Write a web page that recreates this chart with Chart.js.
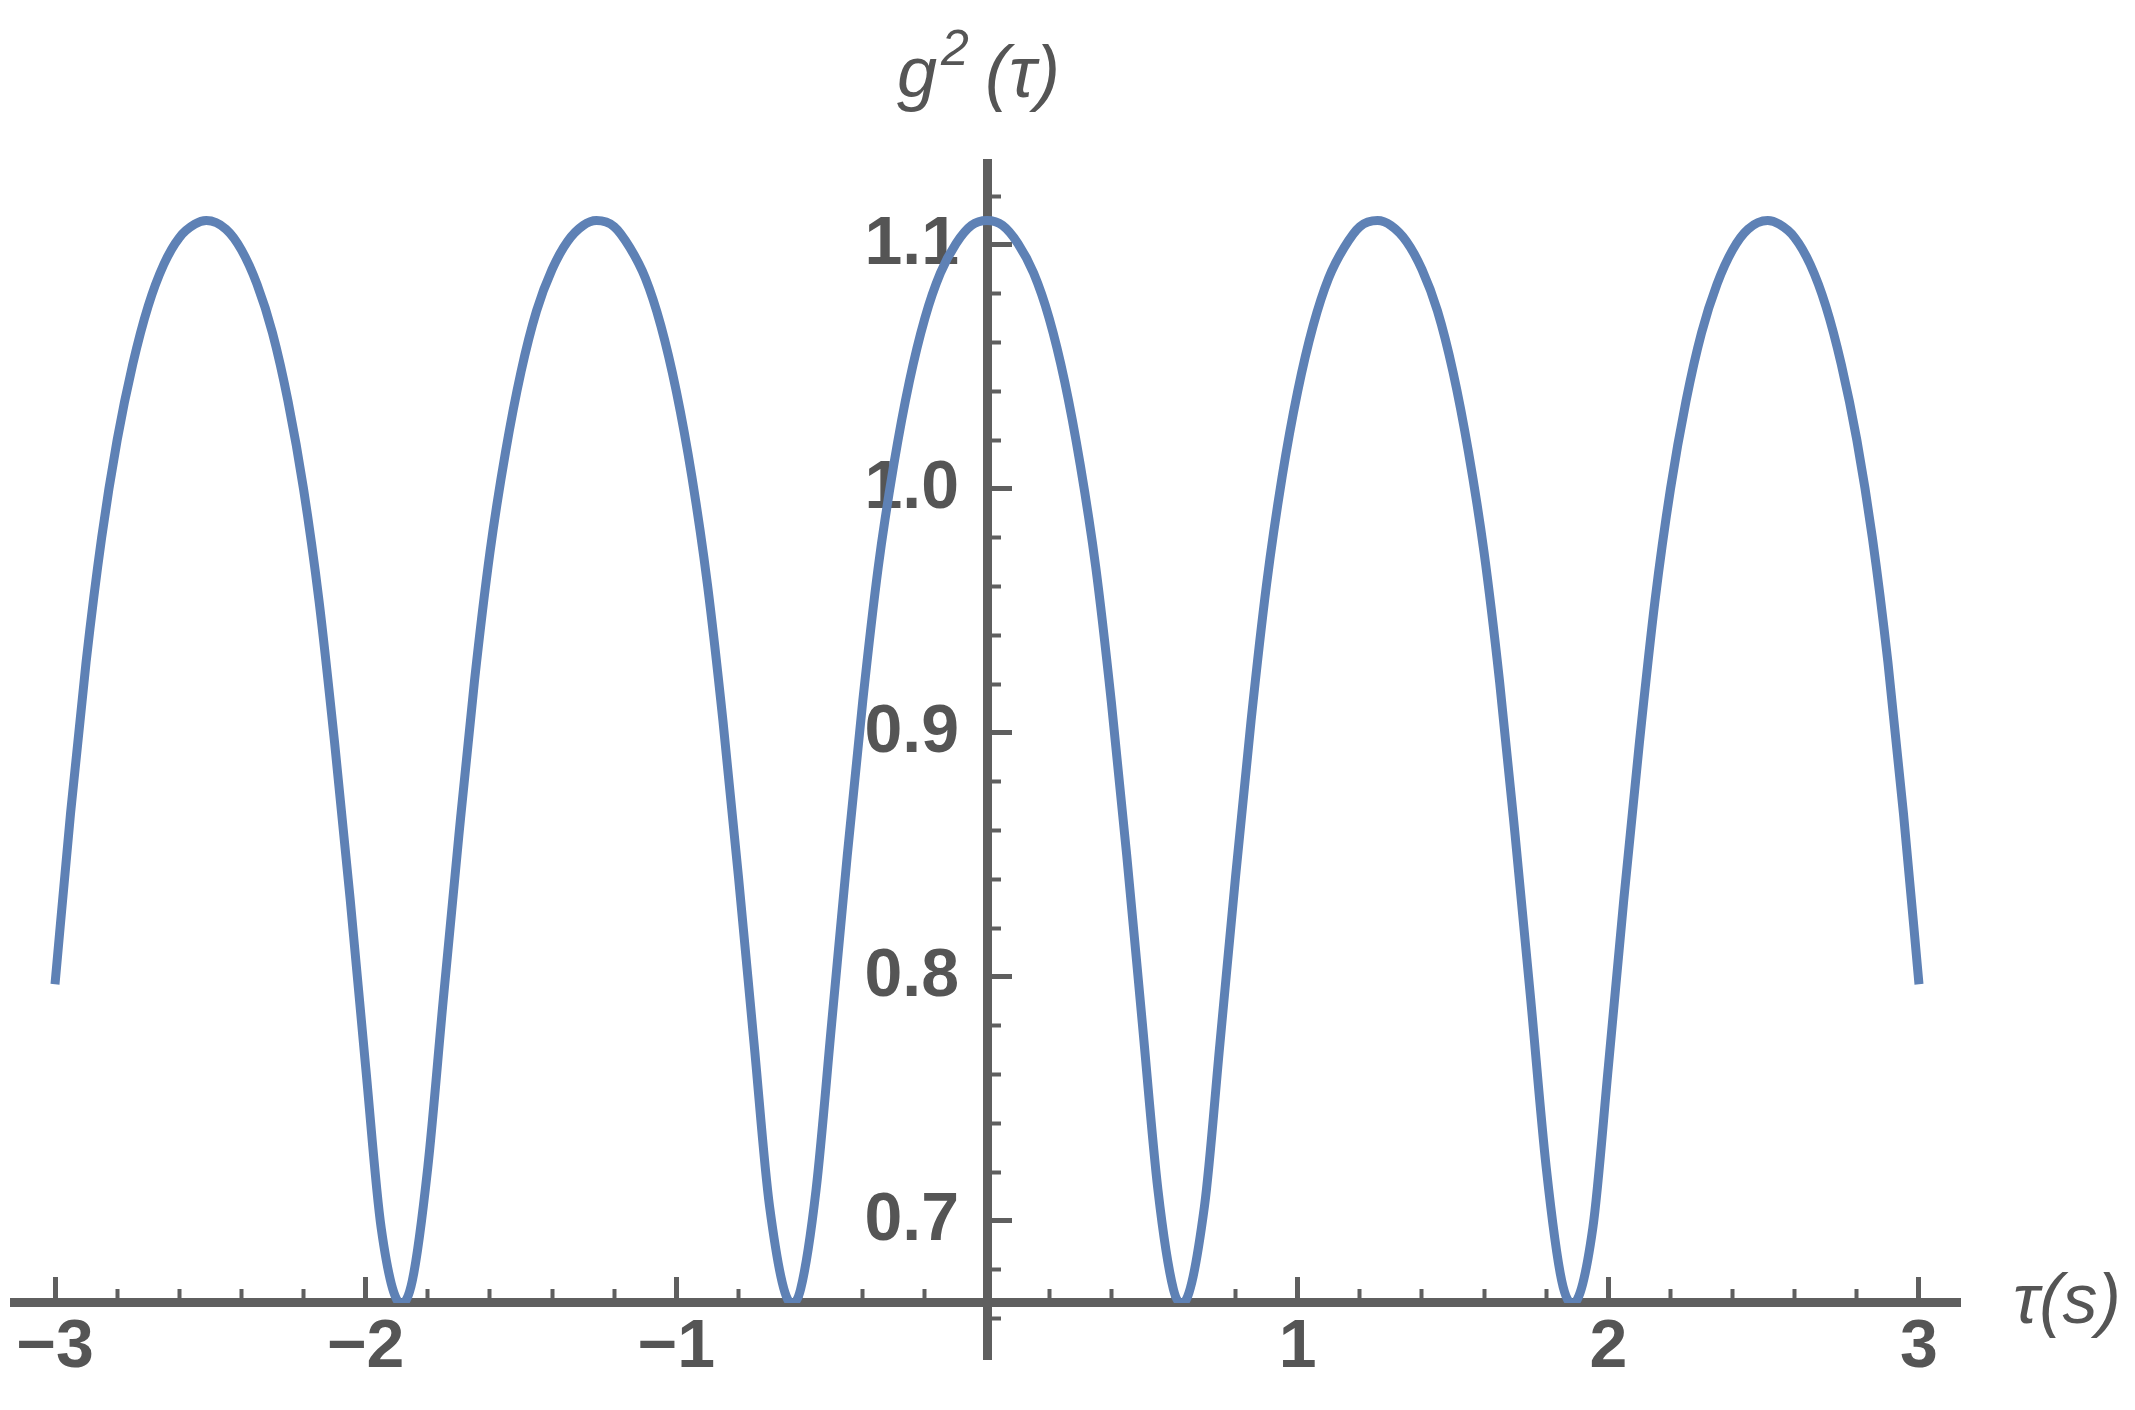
<!DOCTYPE html>
<html lang="en">
<head>
<meta charset="UTF-8">
<title>g2(tau)</title>
<script src="https://cdn.jsdelivr.net/npm/chart.js"></script>
<style>
    html, body { margin: 0; padding: 0; background: #ffffff; }
    .chart-box { position: relative; width: 2135px; height: 1410px; }
</style>
</head>
<body>
<div class="chart-box"><canvas id="plot"></canvas></div>
<script>
// tau (s): sample positions, with the extrema put in where they sit
const tau = [
    -3.00, -2.95, -2.90, -2.85, -2.80, -2.75, -2.70, -2.65, -2.60, -2.55,
    -2.513, -2.45, -2.40, -2.35, -2.30, -2.25, -2.20, -2.15, -2.10, -2.05,
    -2.00, -1.95, -1.885, -1.85, -1.80, -1.75, -1.70, -1.65, -1.60, -1.55,
    -1.50, -1.45, -1.40, -1.35, -1.30, -1.257, -1.20, -1.15, -1.10, -1.05,
    -1.00, -0.95, -0.90, -0.85, -0.80, -0.75, -0.70, -0.628, -0.60, -0.55,
    -0.50, -0.45, -0.40, -0.35, -0.30, -0.25, -0.20, -0.15, -0.10, -0.05,
    0.00,
    0.05, 0.10, 0.15, 0.20, 0.25, 0.30, 0.35, 0.40, 0.45, 0.50,
    0.55, 0.60, 0.628, 0.70, 0.75, 0.80, 0.85, 0.90, 0.95, 1.00,
    1.05, 1.10, 1.15, 1.20, 1.257, 1.30, 1.35, 1.40, 1.45, 1.50,
    1.55, 1.60, 1.65, 1.70, 1.75, 1.80, 1.85, 1.885, 1.95, 2.00,
    2.05, 2.10, 2.15, 2.20, 2.25, 2.30, 2.35, 2.40, 2.45, 2.513,
    2.55, 2.60, 2.65, 2.70, 2.75, 2.80, 2.85, 2.90, 2.95, 3.00
];

// g2(tau)
const g2 = [
    0.797, 0.867, 0.929, 0.980, 1.020, 1.051, 1.075, 1.092, 1.103, 1.1085,
    1.110, 1.1065, 1.098, 1.084, 1.064, 1.036, 1.000, 0.954, 0.896, 0.832,
    0.763, 0.697, 0.666, 0.6754, 0.722, 0.791, 0.858, 0.921, 0.974, 1.015,
    1.048, 1.073, 1.090, 1.1015, 1.108, 1.110, 1.1075, 1.099, 1.0865, 1.067,
    1.040, 1.005, 0.961, 0.905, 0.841, 0.773, 0.706, 0.666, 0.672, 0.713,
    0.781, 0.8495, 0.913, 0.968, 1.010, 1.044, 1.070, 1.0885, 1.1005, 1.108,
    1.110,
    1.108, 1.1005, 1.0885, 1.070, 1.044, 1.010, 0.968, 0.913, 0.8495, 0.781,
    0.713, 0.672, 0.666, 0.706, 0.773, 0.841, 0.905, 0.961, 1.005, 1.040,
    1.067, 1.0865, 1.099, 1.1075, 1.110, 1.108, 1.1015, 1.090, 1.073, 1.048,
    1.015, 0.974, 0.921, 0.858, 0.791, 0.722, 0.6754, 0.666, 0.697, 0.763,
    0.832, 0.896, 0.954, 1.000, 1.036, 1.064, 1.084, 1.098, 1.1065, 1.110,
    1.1085, 1.103, 1.092, 1.075, 1.051, 1.020, 0.980, 0.929, 0.867, 0.797
];

const xTickValues = [-3, -2, -1, 1, 2, 3];
const xTickLabels = ['−3', '−2', '−1', '1', '2', '3'];
const yTickValues = [0.7, 0.8, 0.9, 1.0, 1.1];
const yTickLabels = ['0.7', '0.8', '0.9', '1.0', '1.1'];

const xRange = [-3.132, 3.132];
const yRange = [0.6434, 1.1336];
const axisY = 0.6664;       // where the tau axis crosses

const axisGrey = '#5f5f5f';
const labelGrey = '#555555';
const fontFamily = "'Liberation Sans', Arial, sans-serif";
const labelFont = { family: fontFamily, size: 68, weight: 'bold' };

// positioned axes should not eat layout space
const flat = (s) => {
    if (s.isHorizontal()) s.height = 0; else s.width = 0;
    s.paddingLeft = s.paddingRight = s.paddingTop = s.paddingBottom = 0;
};

// cut the curve at the tau axis, like the original plot range does
const clipAtAxis = {
    id: 'clipAtAxis',
    beforeDatasetsDraw(chart) {
        const { ctx, chartArea } = chart;
        const ay = chart.scales.y.getPixelForValue(axisY);
        ctx.save();
        ctx.beginPath();
        ctx.rect(chartArea.left, chartArea.top, chartArea.width, ay - chartArea.top);
        ctx.clip();
    },
    afterDatasetsDraw(chart) {
        chart.ctx.restore();
    }
};

const axisTitles = {
    id: 'axisTitles',
    afterDraw(chart) {
        const { ctx, scales, chartArea } = chart;
        const x0 = scales.x.getPixelForValue(0);
        const ay = scales.y.getPixelForValue(axisY);
        const base = chartArea.top - 66;
        ctx.save();
        ctx.fillStyle = labelGrey;
        ctx.textAlign = 'left';
        ctx.textBaseline = 'alphabetic';
        ctx.font = 'italic 72px ' + fontFamily;
        ctx.fillText('g', x0 - 90, base);
        ctx.fillText('(τ)', x0 - 2, base);
        ctx.font = 'italic 70px ' + fontFamily;
        ctx.fillText('τ(s)', chartArea.right + 53, ay + 20);
        ctx.font = 'italic 50px ' + fontFamily;
        ctx.fillText('2', x0 - 46, base - 32);
        ctx.restore();
    }
};

const hideZero = (c) => (c.tick && Math.abs(c.tick.value) < 1e-9) ? 'rgba(0,0,0,0)' : axisGrey;

new Chart(document.getElementById('plot'), {
    type: 'line',
    data: {
        datasets: [{
            data: tau.map((t, i) => ({ x: t, y: g2[i] })),
            borderColor: '#5e81b5',
            borderWidth: 9,
            pointRadius: 0,
            fill: false,
            cubicInterpolationMode: 'monotone',
            xAxisID: 'x',
            yAxisID: 'y'
        }]
    },
    options: {
        responsive: true,
        maintainAspectRatio: false,
        animation: false,
        layout: { padding: { left: 14, right: 175, top: 163, bottom: 51 } },
        plugins: {
            legend: { display: false },
            tooltip: { enabled: false }
        },
        scales: {
            x: {
                type: 'linear', axis: 'x', min: xRange[0], max: xRange[1],
                position: { y: axisY }, afterFit: flat,
                border: { display: true, color: axisGrey, width: 9 },
                grid: { drawOnChartArea: false, tickLength: -18, tickWidth: 4, tickColor: hideZero },
                ticks: { display: false, stepSize: 0.2, includeBounds: false, autoSkip: false }
            },
            xMajor: {
                type: 'linear', axis: 'x', min: xRange[0], max: xRange[1],
                position: { y: axisY }, afterFit: flat,
                afterBuildTicks: (s) => { s.ticks = xTickValues.map(v => ({ value: v })); },
                border: { display: false },
                grid: { drawOnChartArea: false, tickLength: -26, tickWidth: 5, tickColor: axisGrey },
                ticks: {
                    color: labelGrey, font: labelFont, padding: 31, maxRotation: 0, autoSkip: false,
                    callback: (v) => { const i = xTickValues.indexOf(v); return i < 0 ? '' : xTickLabels[i]; }
                }
            },
            y: {
                type: 'linear', axis: 'y', min: yRange[0], max: yRange[1],
                position: { x: 0 }, afterFit: flat,
                border: { display: true, color: axisGrey, width: 9 },
                grid: { drawOnChartArea: false, tickLength: -18, tickWidth: 4, tickColor: axisGrey },
                ticks: { display: false, stepSize: 0.02, includeBounds: false, autoSkip: false }
            },
            yMajor: {
                type: 'linear', axis: 'y', min: yRange[0], max: yRange[1],
                position: { x: 0 }, afterFit: flat,
                afterBuildTicks: (s) => { s.ticks = yTickValues.map(v => ({ value: v })); },
                border: { display: false },
                grid: { drawOnChartArea: false, tickLength: -25, tickWidth: 5, tickColor: axisGrey },
                ticks: { display: false, autoSkip: false }
            },
            yLabels: {
                type: 'linear', axis: 'y', min: yRange[0], max: yRange[1],
                position: { x: -0.09 }, afterFit: flat,
                afterBuildTicks: (s) => { s.ticks = yTickValues.map(v => ({ value: v })); },
                border: { display: false },
                grid: { display: false },
                ticks: {
                    color: labelGrey, font: labelFont, autoSkip: false,
                    callback: (v) => { const i = yTickValues.indexOf(v); return i < 0 ? '' : yTickLabels[i]; }
                }
            }
        }
    },
    plugins: [clipAtAxis, axisTitles]
});
</script>
</body>
</html>
